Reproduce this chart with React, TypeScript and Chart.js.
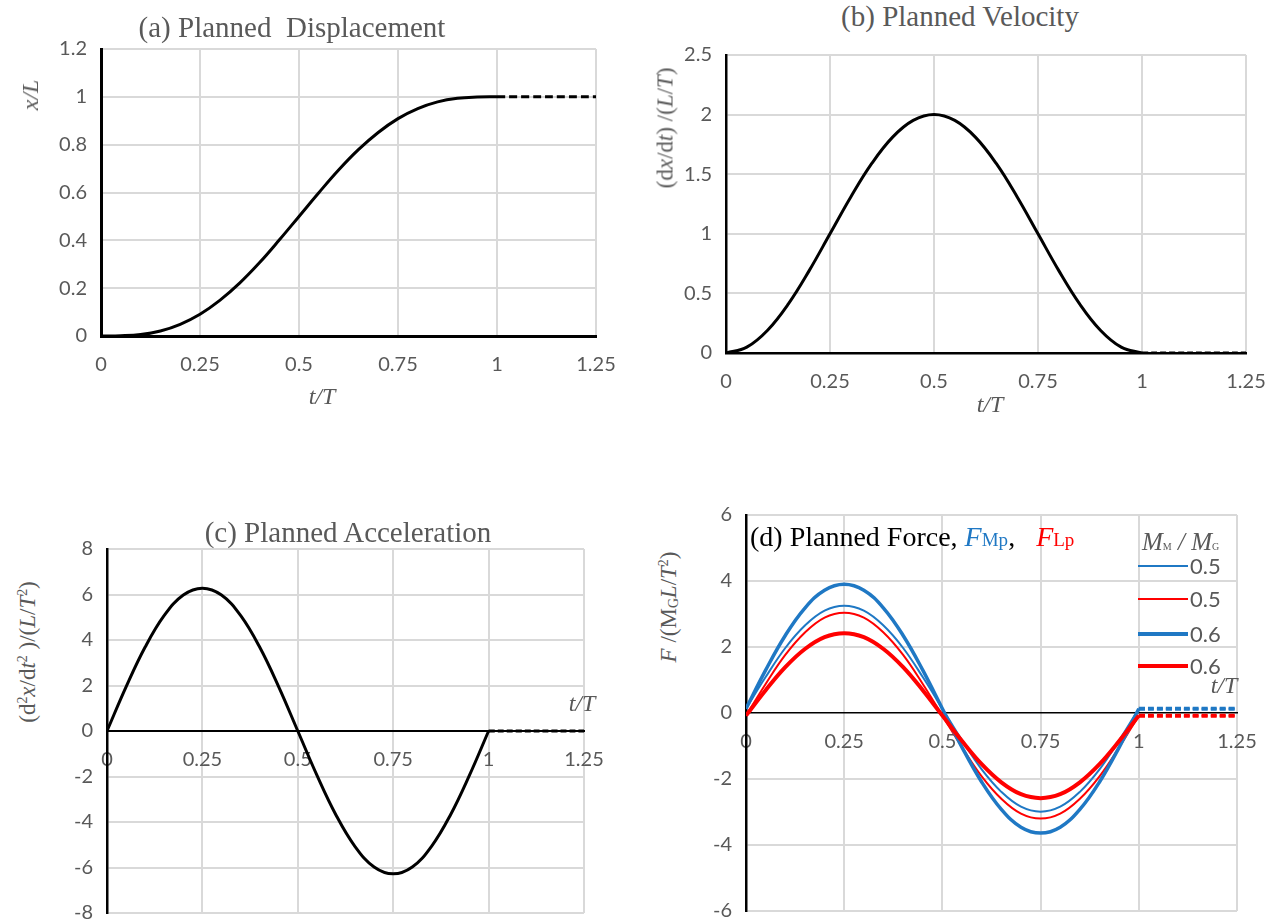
import React, { useEffect, useRef } from 'react';
import { Chart, registerables } from 'chart.js';

Chart.register(...registerables);

// ---------- data ----------
const T_MAIN = [0, 0.05, 0.1, 0.15, 0.2, 0.25, 0.3, 0.35, 0.4, 0.45, 0.5, 0.55, 0.6, 0.65, 0.7, 0.75, 0.8, 0.85, 0.9, 0.95, 1];
const T_TAIL = [1, 1.25];
const X_TICKS = [0, 0.25, 0.5, 0.75, 1, 1.25];

const DISPLACEMENT = [0, 0.001, 0.006, 0.021, 0.049, 0.091, 0.149, 0.221, 0.306, 0.401, 0.5, 0.599, 0.694, 0.779, 0.851, 0.909, 0.951, 0.979, 0.994, 0.999, 1];
const DISPLACEMENT_TAIL = [1, 1];
const DISP_Y_TICKS = [0, 0.2, 0.4, 0.6, 0.8, 1, 1.2];

const VELOCITY = [0, 0.049, 0.191, 0.412, 0.691, 1, 1.309, 1.588, 1.809, 1.951, 2, 1.951, 1.809, 1.588, 1.309, 1, 0.691, 0.412, 0.191, 0.049, 0];
const VELOCITY_TAIL = [0, 0];
const VEL_Y_TICKS = [0, 0.5, 1, 1.5, 2, 2.5];

const ACCELERATION = [0, 1.94, 3.69, 5.08, 5.98, 6.28, 5.98, 5.08, 3.69, 1.94, 0, -1.94, -3.69, -5.08, -5.98, -6.28, -5.98, -5.08, -3.69, -1.94, 0];
const ACCELERATION_TAIL = [0, 0];
const ACC_Y_TICKS = [-8, -6, -4, -2, 0, 2, 4, 6, 8];

const FM_05 = [0.13, 1.09, 1.97, 2.65, 3.1, 3.25, 3.1, 2.65, 1.97, 1.09, 0.13, -0.83, -1.71, -2.39, -2.84, -2.99, -2.84, -2.39, -1.71, -0.83, 0.13];
const FL_05 = [-0.08, 0.88, 1.76, 2.44, 2.89, 3.04, 2.89, 2.44, 1.76, 0.88, -0.08, -1.04, -1.92, -2.6, -3.05, -3.2, -3.05, -2.6, -1.92, -1.04, -0.08];
const FM_06 = [0.13, 1.3, 2.35, 3.18, 3.72, 3.9, 3.72, 3.18, 2.35, 1.3, 0.13, -1.04, -2.09, -2.92, -3.46, -3.64, -3.46, -2.92, -2.09, -1.04, 0.13];
const FL_06 = [-0.08, 0.69, 1.39, 1.94, 2.3, 2.42, 2.3, 1.94, 1.39, 0.69, -0.08, -0.85, -1.55, -2.1, -2.46, -2.58, -2.46, -2.1, -1.55, -0.85, -0.08];
const FM_TAIL = [0.13, 0.13];
const FL_TAIL = [-0.08, -0.08];
const FORCE_Y_TICKS = [-6, -4, -2, 0, 2, 4, 6];
const LEGEND_LABELS = ['0.5', '0.5', '0.6', '0.6'];

// ---------- style ----------
const BLUE = '#1f78c4';
const RED = '#ff0000';
const GRID = '#d9d9d9';
const GRAY = '#595959';
const SERIF = '"Liberation Serif", "Times New Roman", serif';
const SANS = 'Lato, "Liberation Sans", sans-serif';

const YW = 60;
const PT = 16;
const PR = 40;
const PB = 16;
const XH = 60;

const fmt = (v: number) => String(Math.round(v * 100) / 100);
const pts = (xs: number[], ys: number[]) => ys.map((y, i) => ({ x: xs[i], y }));

type Rect = { L: number; T: number; R: number; B: number };

interface PanelProps {
  rect: Rect;
  yTicks: number[];
  axisAtZero: boolean;
  yBorder: number;
  xBorder: number;
  datasets: any[];
}

function Panel({ rect, yTicks, axisAtZero, yBorder, xBorder, datasets }: PanelProps) {
  const ref = useRef<HTMLCanvasElement>(null);
  const width = YW + (rect.R - rect.L) + PR;
  const height = PT + (rect.B - rect.T) + (axisAtZero ? PB : XH);
  useEffect(() => {
    const gridColor = (c: any) => (c.tick && c.tick.value === 0 ? 'rgba(0,0,0,0)' : GRID);
    const chart = new Chart(ref.current as HTMLCanvasElement, {
      type: 'line',
      data: { datasets },
      options: {
        responsive: false,
        animation: false,
        devicePixelRatio: 1,
        layout: { padding: { left: 0, top: PT, right: PR, bottom: axisAtZero ? PB : 0 } },
        plugins: { legend: { display: false }, tooltip: { enabled: false }, title: { display: false } },
        elements: { point: { radius: 0 }, line: { tension: 0.4 } },
        scales: {
          x: {
            type: 'linear',
            min: X_TICKS[0],
            max: X_TICKS[X_TICKS.length - 1],
            position: axisAtZero ? { y: 0 } : 'bottom',
            afterBuildTicks: (s: any) => {
              s.ticks = X_TICKS.map((v) => ({ value: v }));
            },
            afterFit: (s: any) => {
              if (!axisAtZero) s.height = XH;
              s.paddingLeft = 0;
              s.paddingRight = 0;
            },
            grid: { color: gridColor, lineWidth: 2, drawTicks: false },
            border: { display: true, color: '#000', width: xBorder },
            ticks: {
              color: GRAY,
              font: { family: SANS, size: 20 },
              padding: 17,
              maxRotation: 0,
              autoSkip: false,
              callback: (v: any) => fmt(Number(v)),
            },
          } as any,
          y: {
            type: 'linear',
            min: yTicks[0],
            max: yTicks[yTicks.length - 1],
            afterBuildTicks: (s: any) => {
              s.ticks = yTicks.map((v) => ({ value: v }));
            },
            afterFit: (s: any) => {
              s.width = YW;
              s.paddingTop = 0;
              s.paddingBottom = 0;
            },
            grid: { color: gridColor, lineWidth: 2, drawTicks: false },
            border: { display: true, color: '#000', width: yBorder },
            ticks: {
              color: GRAY,
              font: { family: SANS, size: 20 },
              padding: 14,
              autoSkip: false,
              callback: (v: any) => fmt(Number(v)),
            },
          } as any,
        },
      },
    });
    return () => chart.destroy();
  }, []);
  return (
    <canvas
      ref={ref}
      width={width}
      height={height}
      style={{ position: 'absolute', left: rect.L - YW, top: rect.T - PT, width, height }}
    />
  );
}

const line = (data: any[], color: string, w: number, dash?: number[]) => ({
  data,
  borderColor: color,
  backgroundColor: color,
  borderWidth: w,
  borderDash: dash || [],
  fill: false,
  pointRadius: 0,
  borderCapStyle: 'butt',
});

interface TxtProps {
  x: number;
  y: number;
  size: number;
  color?: string;
  rotate?: boolean;
  italic?: boolean;
  left?: boolean;
  family?: string;
  children: React.ReactNode;
}

function Txt({ x, y, size, color = GRAY, rotate = false, italic = false, left = false, family = SERIF, children }: TxtProps) {
  return (
    <div
      style={{
        position: 'absolute',
        left: x,
        top: y,
        transform: `translate(${left ? '0' : '-50%'},-50%)${rotate ? ' rotate(-90deg)' : ''}`,
        fontFamily: family,
        fontSize: size,
        color,
        whiteSpace: 'pre',
        lineHeight: 1,
        fontStyle: italic ? 'italic' : 'normal',
      }}
    >
      {children}
    </div>
  );
}

const sup: React.CSSProperties = { fontSize: '0.6em', verticalAlign: '0.55em', lineHeight: 0 };
const sub: React.CSSProperties = { fontSize: '0.6em', verticalAlign: '-0.2em', lineHeight: 0 };

export default function App() {
  const rectA = { L: 101, T: 49, R: 596, B: 336 };
  const rectB = { L: 726, T: 55, R: 1246, B: 353 };
  const rectC = { L: 107, T: 549, R: 584, B: 913 };
  const rectD = { L: 746, T: 515, R: 1237, B: 911 };

  const dsA = [line(pts(T_MAIN, DISPLACEMENT), '#000', 3), line(pts(T_TAIL, DISPLACEMENT_TAIL), '#000', 3, [8, 4])];
  const dsB = [line(pts(T_MAIN, VELOCITY), '#000', 3), line(pts(T_TAIL, VELOCITY_TAIL), '#000', 3, [6, 3])];
  const dsC = [line(pts(T_MAIN, ACCELERATION), '#000', 3), line(pts(T_TAIL, ACCELERATION_TAIL), '#000', 3, [6, 3])];
  // first dataset is drawn on top in Chart.js
  const dsD = [
    line(pts(T_MAIN, FL_06), RED, 4),
    line(pts(T_TAIL, FL_TAIL), RED, 4, [6, 3]),
    line(pts(T_MAIN, FM_06), BLUE, 3.5),
    line(pts(T_TAIL, FM_TAIL), BLUE, 4, [6, 3]),
    line(pts(T_MAIN, FL_05), RED, 2),
    line(pts(T_TAIL, FL_TAIL), RED, 2, [6, 3]),
    line(pts(T_MAIN, FM_05), BLUE, 2),
    line(pts(T_TAIL, FM_TAIL), BLUE, 2, [6, 3]),
  ];

  const legendRows = [
    { c: BLUE, w: 2, y: 566 },
    { c: RED, w: 2, y: 599 },
    { c: BLUE, w: 4, y: 634 },
    { c: RED, w: 4, y: 666 },
  ];

  return (
    <div style={{ position: 'absolute', left: 0, top: 0, width: 1281, height: 922, overflow: 'hidden', background: '#fff' }}>
      <Panel rect={rectA} yTicks={DISP_Y_TICKS} axisAtZero={false} yBorder={3} xBorder={3} datasets={dsA} />
      <Panel rect={rectB} yTicks={VEL_Y_TICKS} axisAtZero={false} yBorder={2.5} xBorder={2.5} datasets={dsB} />
      <Panel rect={rectC} yTicks={ACC_Y_TICKS} axisAtZero={true} yBorder={2.5} xBorder={2} datasets={dsC} />
      <Panel rect={rectD} yTicks={FORCE_Y_TICKS} axisAtZero={true} yBorder={2.5} xBorder={1.5} datasets={dsD} />

      {/* titles */}
      <Txt x={292} y={27} size={29}>(a) Planned  Displacement</Txt>
      <Txt x={960} y={16} size={29}>(b) Planned Velocity</Txt>
      <Txt x={348} y={532} size={29}>(c) Planned Acceleration</Txt>
      <Txt x={750} y={537} size={28} color="#000" left>
        {'(d) Planned Force, '}
        <span style={{ color: BLUE }}>
          <i>F</i>
          <span style={{ fontSize: 19 }}>Mp</span>
        </span>
        {',   '}
        <span style={{ color: RED }}>
          <i>F</i>
          <span style={{ fontSize: 19 }}>Lp</span>
        </span>
      </Txt>

      {/* axis titles */}
      <Txt x={30} y={95} size={24} rotate italic>x/L</Txt>
      <Txt x={322} y={396} size={24} italic>t/T</Txt>
      <Txt x={665} y={128} size={23} rotate>
        (d<i>x</i>/d<i>t</i>) /(<i>L</i>/<i>T</i>)
      </Txt>
      <Txt x={990} y={404} size={24} italic>t/T</Txt>
      <Txt x={27} y={652} size={23} rotate>
        (d<span style={sup}>2</span>
        <i>x</i>/d<i>t</i>
        <span style={sup}>2</span> )/(<i>L</i>/<i>T</i>
        <span style={sup}>2</span>)
      </Txt>
      <Txt x={582} y={703} size={24} italic>t/T</Txt>
      <Txt x={668} y={607} size={23} rotate>
        <i>F</i> /(M<span style={sub}>G</span>
        <i>L</i>/<i>T</i>
        <span style={sup}>2</span>)
      </Txt>
      <Txt x={1224} y={685} size={24} italic>t/T</Txt>

      {/* legend of (d) */}
      <Txt x={1142} y={541} size={25} italic left>
        M<span style={{ fontSize: 10, fontStyle: 'normal' }}>M</span> / M
        <span style={{ fontSize: 10, fontStyle: 'normal' }}>G</span>
      </Txt>
      {legendRows.map((r, i) => (
        <React.Fragment key={i}>
          <div
            style={{
              position: 'absolute',
              left: 1138,
              top: r.y - r.w / 2,
              width: 50,
              height: r.w,
              background: r.c,
            }}
          />
          <Txt x={1190} y={r.y} size={22} family={SANS} left>
            {LEGEND_LABELS[i]}
          </Txt>
        </React.Fragment>
      ))}
    </div>
  );
}
